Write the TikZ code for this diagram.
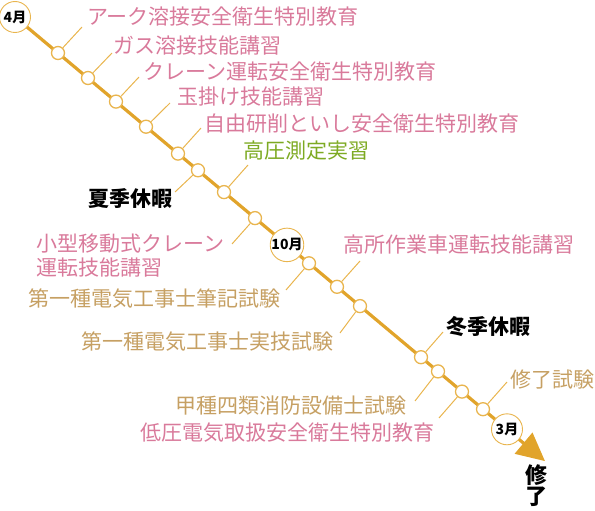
\documentclass[tikz,border=0pt]{standalone}
\usepackage{fontspec}
\setmainfont{Noto Sans CJK JP}
\usetikzlibrary{arrows.meta,backgrounds}
\definecolor{gold}{HTML}{E1A42B}
\definecolor{ringgold}{HTML}{E9B54E}
\definecolor{pinktxt}{HTML}{D97A9B}
\definecolor{tantxt}{HTML}{C6A063}
\definecolor{greentxt}{HTML}{7DAA22}
\tikzset{
  mainline/.style={draw=gold, line width=3.2pt},
  leader/.style={draw=ringgold, line width=1pt},
  dot/.style={circle, draw=ringgold, line width=1.3pt, fill=white, minimum size=13pt, inner sep=0pt},
  month/.style={circle, draw=ringgold, line width=0.9pt, fill=white, minimum size=31pt, inner sep=0pt, font=\fontsize{14}{14}\selectfont\bfseries},
  lbl/.style={anchor=west, inner sep=0pt, font=\fontsize{21}{25}\selectfont},
  pinkl/.style={lbl, text=pinktxt},
  tanl/.style={lbl, text=tantxt},
  greenl/.style={lbl, text=greentxt},
  blackl/.style={lbl, text=black, font=\fontsize{21}{25}\selectfont\bfseries},
  finl/.style={inner sep=0pt, font=\fontsize{22}{22}\selectfont\bfseries},
}
\begin{document}
\begin{tikzpicture}[x=1pt,y=-1pt]
\useasboundingbox (0,0) rectangle (595,511);
% month markers and dots
\node[month] (m4) at (15,17) {4月};
\node[dot] (c1) at (58,53) {};
\node[dot] (c2) at (88,78) {};
\node[dot] (c3) at (116,101.6) {};
\node[dot] (c4) at (146,126.7) {};
\node[dot] (c5) at (178,153.6) {};
\node[dot] (c6) at (198,170.3) {};
\node[dot] (c7) at (224,192.1) {};
\node[dot] (c8) at (255,218.1) {};
\node[month] (m10) at (287,244.9) {10月};
\node[dot] (c9) at (309,263.3) {};
\node[dot] (c10) at (337,286.8) {};
\node[dot] (c11) at (360,306.1) {};
\node[dot] (c12) at (421,357.2) {};
\node[dot] (c13) at (438,371.4) {};
\node[dot] (c14) at (462,391.6) {};
\node[dot] (c15) at (483,409.2) {};
\node[month] (m3) at (507,429.3) {3月};
\coordinate (tip) at (545,461.1);
\begin{scope}[on background layer]
  \draw[mainline] (m4.center) -- (m3.center);
  \draw[mainline, -{Triangle[length=28pt,width=27pt]}] (m3.center) -- (tip);
\end{scope}
% leader ends
\coordinate (e1) at (82,27);
\coordinate (e2) at (112,53);
\coordinate (e3) at (139,77);
\coordinate (e4) at (170,103);
\coordinate (e5) at (201,128);
\coordinate (e6) at (175,192);
\coordinate (e7) at (248,165);
\coordinate (e8) at (232,244);
\coordinate (e9) at (286,290);
\coordinate (e10) at (360,261);
\coordinate (e11) at (340,333);
\coordinate (e12) at (443,332);
\coordinate (e13) at (415,401);
\coordinate (e14) at (439,418);
\coordinate (e15) at (507,382);
\foreach \i in {1,...,15}{\draw[leader] (c\i) -- (e\i);}
% labels
\node[pinkl] (t1) at (87,17) {アーク溶接安全衛生特別教育};
\node[pinkl] (t2) at (113,46) {ガス溶接技能講習};
\node[pinkl] (t3) at (143,72) {クレーン運転安全衛生特別教育};
\node[pinkl] (t4) at (177,97) {玉掛け技能講習};
\node[pinkl] (t5) at (204,124) {自由研削といし安全衛生特別教育};
\node[greenl] (t7) at (243,151) {高圧測定実習};
\node[blackl] (t6) at (88,199) {夏季休暇};
\node[pinkl] (t8a) at (36,244) {小型移動式クレーン};
\node[pinkl] (t8b) at (36,268) {運転技能講習};
\node[tanl] (t9) at (28,299) {第一種電気工事士筆記試験};
\node[pinkl] (t10) at (343,245) {高所作業車運転技能講習};
\node[tanl] (t11) at (81,342) {第一種電気工事士実技試験};
\node[blackl] (t12) at (446,327) {冬季休暇};
\node[tanl] (t15) at (510,380) {修了試験};
\node[tanl] (t13) at (175,406) {甲種四類消防設備士試験};
\node[pinkl] (t14) at (140,433) {低圧電気取扱安全衛生特別教育};
\node[finl] (fin1) at (536,475) {修};
\node[finl] (fin2) at (536,497) {了};
\end{tikzpicture}
\end{document}
